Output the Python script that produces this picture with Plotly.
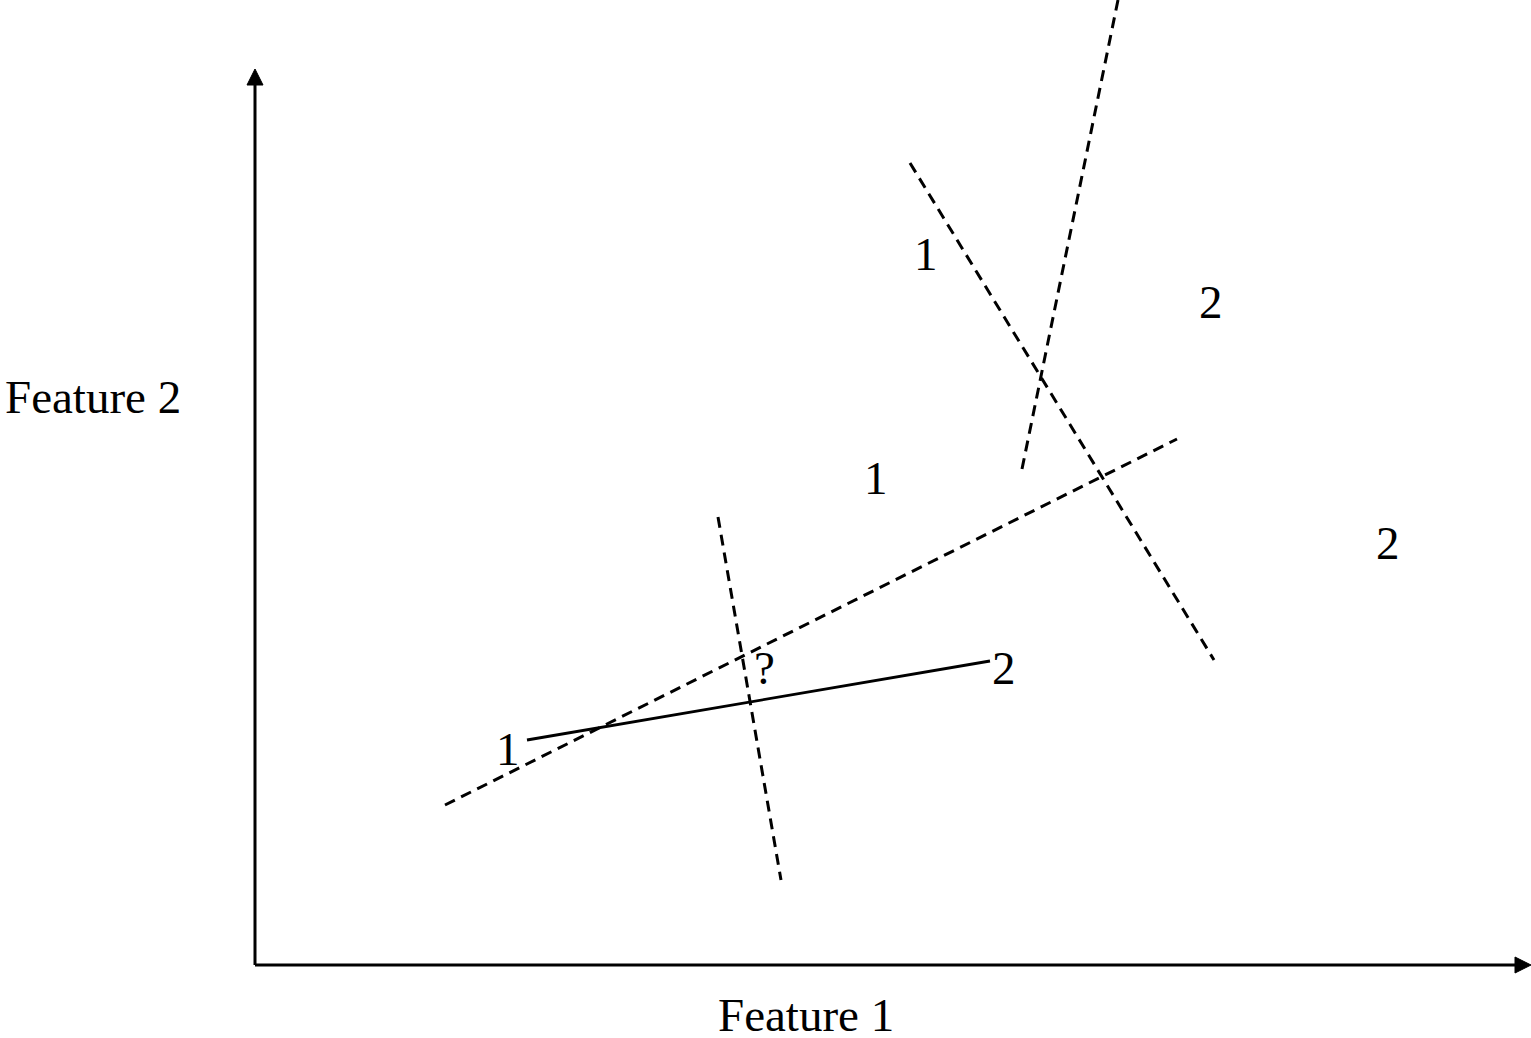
import plotly.graph_objects as go

# ---- data (feature-space units, origin at the axes corner) ----
x_axis_end = 1276
y_axis_end = 896

solid_x = [272, 735]
solid_y = [225, 304]

dash_lines_x = [[190, 922], [463, 526], [655, 959], [767, 863]]
dash_lines_y = [[160, 526], [448, 85], [802, 305], [496, 965]]

label_text = ["1", "2", "1", "2", "?", "2", "1"]
label_x = [671, 956, 621, 1133, 509, 749, 253]
label_y = [711, 663, 487, 422, 297, 297, 216]

x_title = "Feature 1"
y_title = "Feature 2"

# ---- style ----
FONT = "Liberation Serif"
FS = 47
AX_W = 3
AH_LEN = 16
AH_HALF = 8

fig = go.Figure()

# axes lines
fig.add_trace(go.Scatter(x=[0, x_axis_end - AH_LEN + 2], y=[0, 0], mode="lines",
                         line=dict(color="black", width=AX_W), hoverinfo="skip"))
fig.add_trace(go.Scatter(x=[0, 0], y=[0, y_axis_end - AH_LEN + 2], mode="lines",
                         line=dict(color="black", width=AX_W), hoverinfo="skip"))
# arrowheads
fig.add_trace(go.Scatter(
    x=[x_axis_end, x_axis_end - AH_LEN, x_axis_end - AH_LEN, x_axis_end],
    y=[0, AH_HALF, -AH_HALF, 0], mode="lines", fill="toself",
    fillcolor="black", line=dict(color="black", width=1), hoverinfo="skip"))
fig.add_trace(go.Scatter(
    x=[0, AH_HALF, -AH_HALF, 0],
    y=[y_axis_end, y_axis_end - AH_LEN, y_axis_end - AH_LEN, y_axis_end],
    mode="lines", fill="toself",
    fillcolor="black", line=dict(color="black", width=1), hoverinfo="skip"))

# dashed boundaries
for xs, ys in zip(dash_lines_x, dash_lines_y):
    fig.add_trace(go.Scatter(x=xs, y=ys, mode="lines",
                             line=dict(color="black", width=3, dash="11px,7px"),
                             hoverinfo="skip"))

# solid segment
fig.add_trace(go.Scatter(x=solid_x, y=solid_y, mode="lines",
                         line=dict(color="black", width=2.8), hoverinfo="skip"))

# labels
for t, lx, ly in zip(label_text, label_x, label_y):
    fig.add_annotation(x=lx, y=ly, text=t, showarrow=False,
                       xanchor="center", yanchor="middle",
                       font=dict(family=FONT, size=FS, color="black"))

fig.add_annotation(x=551, y=-50, text=x_title, showarrow=False,
                   xanchor="center", yanchor="middle", height=44, valign="middle",
                   font=dict(family=FONT, size=FS, color="black"))
fig.add_annotation(x=-162, y=568, text=y_title, showarrow=False,
                   xanchor="center", yanchor="middle",
                   font=dict(family=FONT, size=FS, color="black"))

fig.update_layout(
    width=1531, height=1038,
    margin=dict(l=0, r=0, t=0, b=0),
    paper_bgcolor="white", plot_bgcolor="white",
    showlegend=False,
    xaxis=dict(range=[-255, 1276], visible=False, fixedrange=True),
    yaxis=dict(range=[-73, 965], visible=False, fixedrange=True),
)

fig.write_html(
    "out.html",
    config={"displayModeBar": False},
    post_script="document.body.style.margin='0';document.body.style.overflow='hidden';",
)
